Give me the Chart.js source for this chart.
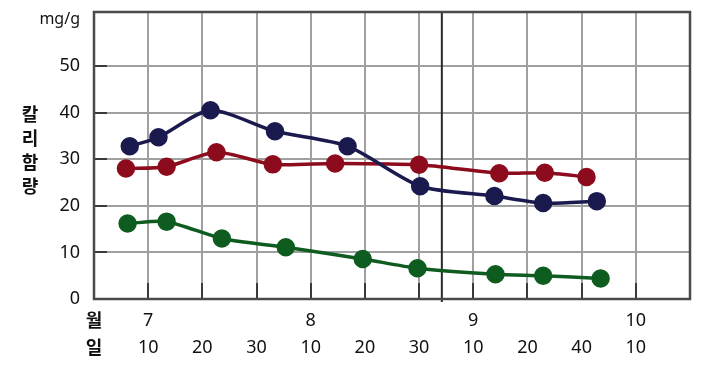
<!DOCTYPE html>
<html><head><meta charset="utf-8">
<script src="https://cdn.jsdelivr.net/npm/chart.js@4/dist/chart.umd.min.js"></script>
<style>html,body{margin:0;padding:0;background:#fff}#wrap{width:701px;height:379px}</style>
</head><body><div id="wrap"><canvas id="c" width="701" height="379"></canvas></div>
<script>
// x position: 1 unit = 10 days (1 = 7/10, 4 = 8/10, 7 = 9/10, 10 = 10/10)
const navyX  = [0.66, 1.19, 2.15, 3.34, 4.68, 6.02, 7.39, 8.29, 9.28];
const navyY  = [32.8, 34.7, 40.5, 36.0, 32.8, 24.2, 22.1, 20.6, 21.0];
const redX   = [0.59, 1.34, 2.26, 3.30, 4.45, 6.00, 7.48, 8.32, 9.09];
const redY   = [28.0, 28.4, 31.5, 28.9, 29.1, 28.8, 27.0, 27.1, 26.2];
const greenX = [0.62, 1.34, 2.36, 3.54, 4.96, 5.97, 7.41, 8.29, 9.35];
const greenY = [16.2, 16.6, 13.0, 11.1, 8.6, 6.6, 5.3, 5.0, 4.4];
const monthLabels = ['월','7','','','8','','','9','','','10',''];
const dayLabels   = ['일','10','20','30','10','20','30','10','20','40','10',''];
const yUnit = 'mg/g';
const yTitleChars = ['칼','리','함','량'];
const monthBoundary = 6.42;

const pts = (xs, ys) => xs.map((x, i) => ({x, y: ys[i]}));
const NAVY = '#1b1a4e', RED = '#8c0b1c', GREEN = '#0e5c1f';
const mk = (label, data, c) => ({label, data, borderColor: c, backgroundColor: c,
  pointBackgroundColor: c, pointBorderColor: c, pointRadius: 7.5, pointHoverRadius: 7.5,
  borderWidth: 3.5, tension: 0.25, fill: false});

const deco = {
  id: 'deco',
  beforeDatasetsDraw(chart) {
    const {ctx, chartArea: a, scales: {x, y}} = chart;
    ctx.save();
    ctx.strokeStyle = '#3a3a3a'; ctx.lineWidth = 2;
    for (let v = 10; v <= 50; v += 10) {
      const py = Math.round(y.getPixelForValue(v));
      ctx.beginPath(); ctx.moveTo(a.left, py); ctx.lineTo(a.left + 13, py); ctx.stroke();
    }
    for (let v = 1; v <= 10; v++) {
      const px = Math.round(x.getPixelForValue(v));
      ctx.beginPath(); ctx.moveTo(px, a.bottom); ctx.lineTo(px, a.bottom - 16); ctx.stroke();
    }
    const mx = x.getPixelForValue(monthBoundary);
    ctx.strokeStyle = '#2a2a2a'; ctx.lineWidth = 2;
    ctx.beginPath(); ctx.moveTo(mx, a.top); ctx.lineTo(mx, a.bottom + 3); ctx.stroke();
    ctx.strokeStyle = '#4a4a4a'; ctx.lineWidth = 2.5;
    ctx.strokeRect(a.left, a.top, a.right - a.left, a.bottom - a.top);
    ctx.restore();
  },
  afterDraw(chart) {
    const {ctx} = chart;
    ctx.save();
    ctx.fillStyle = '#111';
    ctx.font = 'bold 18px "Noto Sans CJK KR"';
    ctx.textAlign = 'center'; ctx.textBaseline = 'middle';
    yTitleChars.forEach((ch, i) => ctx.fillText(ch, 30, 114 + i * 24));
    ctx.restore();
  }
};

new Chart(document.getElementById('c'), {
  type: 'line',
  data: { datasets: [mk('A', pts(navyX, navyY), NAVY), mk('B', pts(redX, redY), RED), mk('C', pts(greenX, greenY), GREEN)] },
  options: {
    responsive: false, animation: false, devicePixelRatio: 1,
    layout: { padding: { left: 0, right: 7, top: 12, bottom: 0 } },
    plugins: { legend: { display: false }, tooltip: { enabled: false } },
    scales: {
      x: {
        type: 'linear', min: 0, max: 11,
        afterFit(s) { s.height = 80; s.paddingLeft = 0; s.paddingRight = 0; },
        grid: { drawTicks: false, color: c => (c.tick && (c.tick.value === 0 || c.tick.value === 11)) ? 'rgba(0,0,0,0)' : '#a0a0a0', lineWidth: 2 },
        border: { display: false },
        ticks: {
          stepSize: 1, autoSkip: false, maxRotation: 0, padding: 8, color: '#111',
          font: c => ({ family: c.index === 0 ? '"Noto Sans CJK KR"' : '"Noto Sans"', size: 18, weight: c.index === 0 ? 'bold' : 'normal', lineHeight: 1.5 }),
          callback: (v, i) => [monthLabels[v], dayLabels[v]]
        }
      },
      y: {
        min: 0, max: 61.6,
        afterFit(s) { s.width = 94; s.paddingTop = 0; s.paddingBottom = 0; },
        grid: { drawTicks: false, color: c => (c.tick && (c.tick.value === 0 || c.tick.value === 60)) ? 'rgba(0,0,0,0)' : '#a0a0a0', lineWidth: 2 },
        border: { display: false },
        ticks: {
          stepSize: 10, includeBounds: false, padding: 14, color: '#111',
          font: c => ({ family: '"Noto Sans"', size: c.tick && c.tick.value === 60 ? 16 : 18 }),
          callback: v => v === 60 ? yUnit : String(v)
        }
      }
    }
  },
  plugins: [deco]
});
</script></body></html>
